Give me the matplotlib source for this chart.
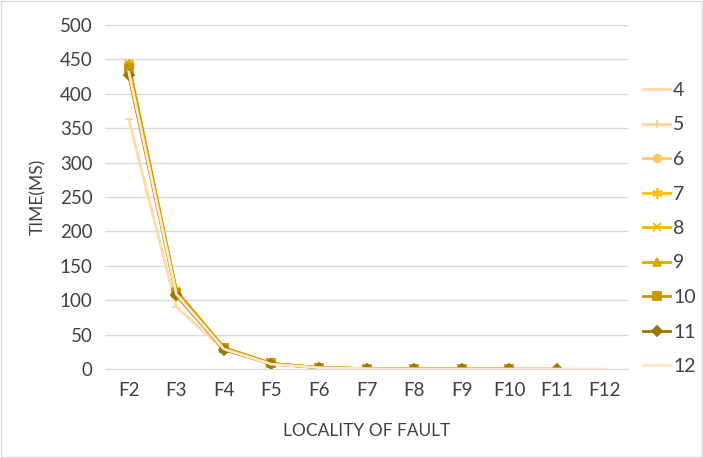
import numpy as np
import matplotlib.pyplot as plt
from matplotlib.lines import Line2D

plt.rcParams['font.family'] = ['Lato', 'DejaVu Sans']

faults = ['F2', 'F3', 'F4', 'F5', 'F6', 'F7', 'F8', 'F9', 'F10', 'F11', 'F12']
names = ['4', '5', '6', '7', '8', '9', '10', '11', '12']

s4 = [363, 90, 28]
s5 = [440, 112, 30, 8]
s6 = [442, 113, 31, 8, 2]
s7 = [443, 114, 31, 8, 2, 0.6]
s8 = [444, 114, 31, 8, 2, 0.6, 0.2]
s9 = [443, 113, 31, 8, 2, 0.6, 0.2, 0.1]
s10 = [438, 111, 30, 8, 2, 0.6, 0.2, 0.1, 0.05]
s11 = [427, 107, 28, 7, 2, 0.5, 0.2, 0.1, 0.05, 0.02]
s12 = [432, 109, 29, 7, 2, 0.5, 0.2, 0.1, 0.05, 0.02, 0.01]
series = [s4, s5, s6, s7, s8, s9, s10, s11, s12]

colors = ['#FFD9A6', '#FFD494', '#FFC766', '#FFC000', '#F2B600', '#DDA600',
          '#C89600', '#9E7600', '#FFE8CC']
markers = ['_', '+', 'o', (6, 2, 0), 'x', '^', 's', 'D', None]
sizes = [5.5, 6, 5.5, 7.5, 6, 5.5, 5.5, 5.5, 5.5]

fig = plt.figure(figsize=(7.03, 4.58), dpi=100)
ax = fig.add_axes([105/703, 1-369/458, 523/703, 344/458])

x = np.arange(len(faults))
for vals, c, m, s in zip(series, colors, markers, sizes):
    ax.plot(x[:len(vals)], vals, color=c, lw=2, marker=m, ms=s, mew=1.3)

ax.set_xlim(-0.5, len(faults) - 0.5)
ax.set_ylim(0, 500)
ax.set_yticks(np.arange(0, 501, 50))
ax.set_xticks(x)
ax.set_xticklabels(faults)
ax.grid(axis='y', color='#D9D9D9', lw=1)
ax.set_axisbelow(True)
for sp in ['top', 'right', 'left']:
    ax.spines[sp].set_visible(False)
ax.spines['bottom'].set_color('#D9D9D9')
ax.tick_params(length=0, labelsize=13.5, colors='#404040', pad=9)
ax.set_xlabel('LOCALITY OF FAULT', fontsize=12.5, color='#404040', labelpad=18)
ax.set_ylabel('TIME(MS)', fontsize=12.5, color='#404040', labelpad=10)

handles = [Line2D([], [], color=c, lw=2, marker=m, ms=s, mew=1.3)
           for c, m, s in zip(colors, markers, sizes)]
leg = fig.legend(handles, names, loc='upper left', bbox_to_anchor=(643/703, 1-82/458),
                 frameon=False, fontsize=14, handlelength=1.4, labelspacing=0.9,
                 handletextpad=0.15, borderpad=0, borderaxespad=0)
for t in leg.get_texts():
    t.set_color('#404040')

fig.patches.append(plt.Rectangle((0.002, 0.002), 0.996, 0.996, transform=fig.transFigure,
                                 fill=False, edgecolor='#D9D9D9', lw=1))
fig.savefig('out.png', dpi=100)
